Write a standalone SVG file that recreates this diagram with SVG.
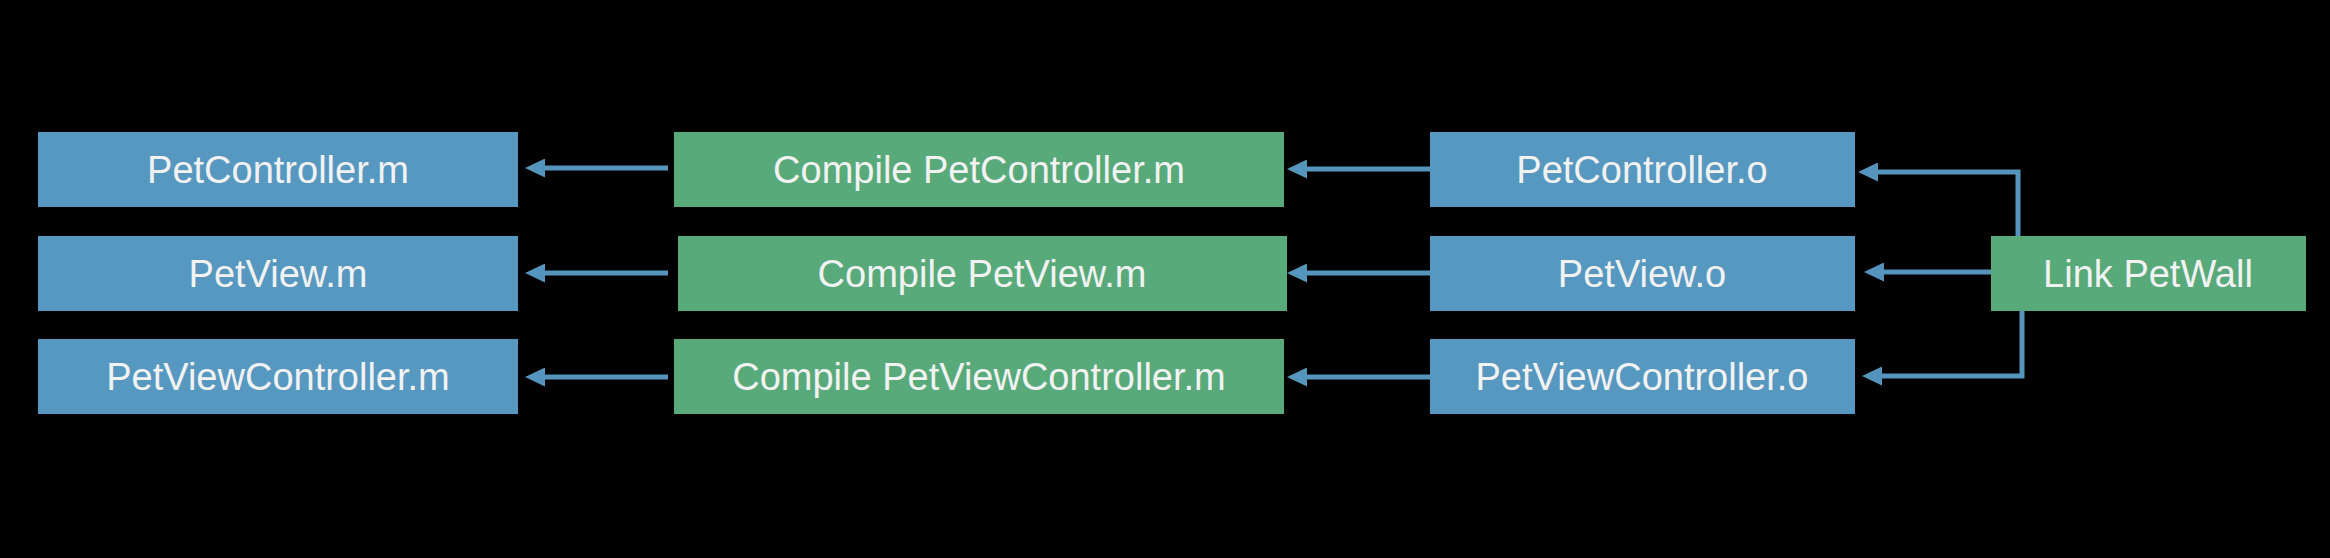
<svg xmlns="http://www.w3.org/2000/svg" width="2330" height="558" viewBox="0 0 2330 558">
<style>
.file{fill:#5798c0}
.task{fill:#58aa7a}
.lbl{font-family:"Liberation Sans",Arial,sans-serif;font-size:38px;fill:#f2f2f2;text-anchor:middle}
.conn{fill:none;stroke:#5594bc;stroke-width:5;marker-end:url(#ah)}
</style>
<defs>
<marker id="ah" markerUnits="userSpaceOnUse" markerWidth="20" markerHeight="19" viewBox="0 0 20 19" refX="5" refY="9.5" orient="auto">
<path d="M0,0 L20,9.5 L0,19 Z" fill="#5594bc"/>
</marker>
</defs>
<rect width="2330" height="558" fill="#000"/>
<g id="n-petcontroller-m"><rect class="file" x="38" y="132" width="480" height="75"/><text class="lbl" x="278" y="183">PetController.m</text></g>
<g id="n-petview-m"><rect class="file" x="38" y="236" width="480" height="75"/><text class="lbl" x="278" y="287">PetView.m</text></g>
<g id="n-petviewcontroller-m"><rect class="file" x="38" y="339" width="480" height="75"/><text class="lbl" x="278" y="390">PetViewController.m</text></g>
<g id="n-compile-petcontroller"><rect class="task" x="674" y="132" width="610" height="75"/><text class="lbl" x="979" y="183">Compile PetController.m</text></g>
<g id="n-compile-petview"><rect class="task" x="678" y="236" width="609" height="75"/><text class="lbl" x="982" y="287">Compile PetView.m</text></g>
<g id="n-compile-petviewcontroller"><rect class="task" x="674" y="339" width="610" height="75"/><text class="lbl" x="979" y="390">Compile PetViewController.m</text></g>
<g id="n-petcontroller-o"><rect class="file" x="1430" y="132" width="425" height="75"/><text class="lbl" x="1642" y="183">PetController.o</text></g>
<g id="n-petview-o"><rect class="file" x="1430" y="236" width="425" height="75"/><text class="lbl" x="1642" y="287">PetView.o</text></g>
<g id="n-petviewcontroller-o"><rect class="file" x="1430" y="339" width="425" height="75"/><text class="lbl" x="1642" y="390">PetViewController.o</text></g>
<g id="n-link-petwall"><rect class="task" x="1991" y="236" width="315" height="75"/><text class="lbl" x="2148" y="287">Link PetWall</text></g>
<g id="connectors">
<path class="conn" d="M668,168 H540"/>
<path class="conn" d="M668,273 H540"/>
<path class="conn" d="M668,377 H540"/>
<path class="conn" d="M1430,169 H1302"/>
<path class="conn" d="M1430,273 H1302"/>
<path class="conn" d="M1430,377 H1302"/>
<path class="conn" d="M2018,236 V172 H1873"/>
<path class="conn" d="M1991,272 H1879"/>
<path class="conn" d="M2022,311 V376 H1877"/>
</g>
</svg>
